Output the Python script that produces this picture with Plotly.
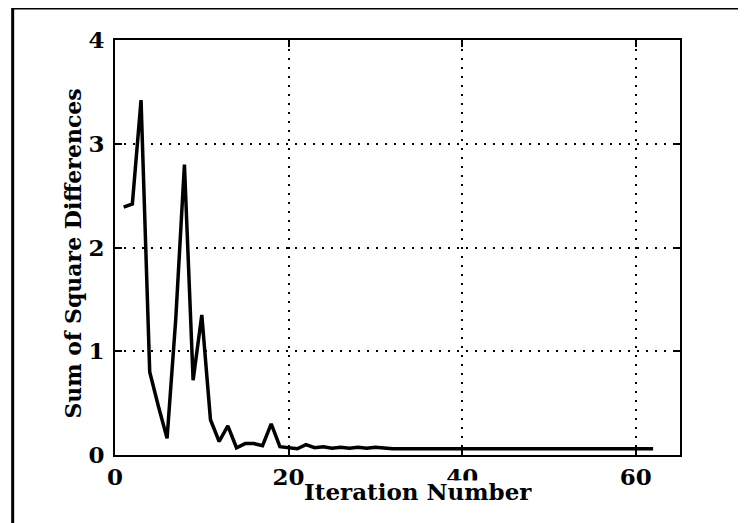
import plotly.graph_objects as go

iterations = list(range(1, 63))
ssd = [2.39, 2.42, 3.42, 0.80, 0.47, 0.16, 1.31, 2.80, 0.72, 1.35,
       0.34, 0.13, 0.28, 0.07, 0.11, 0.11, 0.09, 0.30, 0.08, 0.07,
       0.06, 0.10, 0.07, 0.08, 0.065, 0.075, 0.065, 0.075, 0.065, 0.075,
       0.065] + [0.06] * 31

x_ticks = [0, 20, 40, 60]
y_ticks = [0, 1, 2, 3, 4]

W, H = 746, 523
OFF = 8  # page body margin shifts the figure by 8px right and down
# plot area in reference pixels
X0, X1, Y0, Y1 = 114.5, 680.5, 40, 455
L, R, T, B = X0 - OFF, W - (X1 - OFF), Y0 - OFF, H - (Y1 - OFF)
pw, ph = W - L - R, H - T - B

def px(x):
    return (x - OFF - L) / pw

def py(y):
    return (H - B - (y - OFF)) / ph

tfont = dict(family="DejaVu Serif", size=23, color="black", weight="bold")

fig = go.Figure()
fig.add_trace(go.Scatter(x=iterations, y=ssd, mode="lines",
                         line=dict(color="black", width=3.5), showlegend=False))

axis_common = dict(showgrid=True, gridcolor="black", griddash="2px,7px", gridwidth=1.5,
                   showline=True, linecolor="black", linewidth=2, mirror="ticks",
                   ticks="inside", ticklen=7, tickcolor="black", tickwidth=1.5,
                   zeroline=False, tickfont=tfont)

fig.update_xaxes(range=[0, 65.1], tickvals=x_ticks, ticktext=[str(v) for v in x_ticks],
                 ticklabelstandoff=0, **axis_common)
fig.update_yaxes(range=[0, 4], tickvals=y_ticks, ticktext=[str(v) for v in y_ticks],
                 ticklabelstandoff=4, **axis_common)

fig.add_annotation(text="Iteration Number", xref="paper", yref="paper",
                   x=px(418), y=py(491), xanchor="center", yanchor="middle",
                   showarrow=False, font=tfont, bgcolor="white", borderpad=0,
                   height=21, valign="middle")
fig.add_annotation(text="Sum of Square Differences", xref="paper", yref="paper",
                   x=px(72), y=py(254), xanchor="center", yanchor="middle",
                   textangle=-90, showarrow=False,
                   font=dict(family="DejaVu Serif", size=22, color="black", weight="bold"))

# outer frame (only left and top edges visible in the picture)
fig.add_shape(type="rect", xref="paper", yref="paper",
              x0=px(12), x1=px(800), y0=py(8), y1=py(600),
              line=dict(color="black", width=3), fillcolor="rgba(0,0,0,0)", layer="below")

fig.update_layout(width=W, height=H, margin=dict(l=L, r=R, t=T, b=B),
                  paper_bgcolor="white", plot_bgcolor="white")

fig.write_html("out.html")
